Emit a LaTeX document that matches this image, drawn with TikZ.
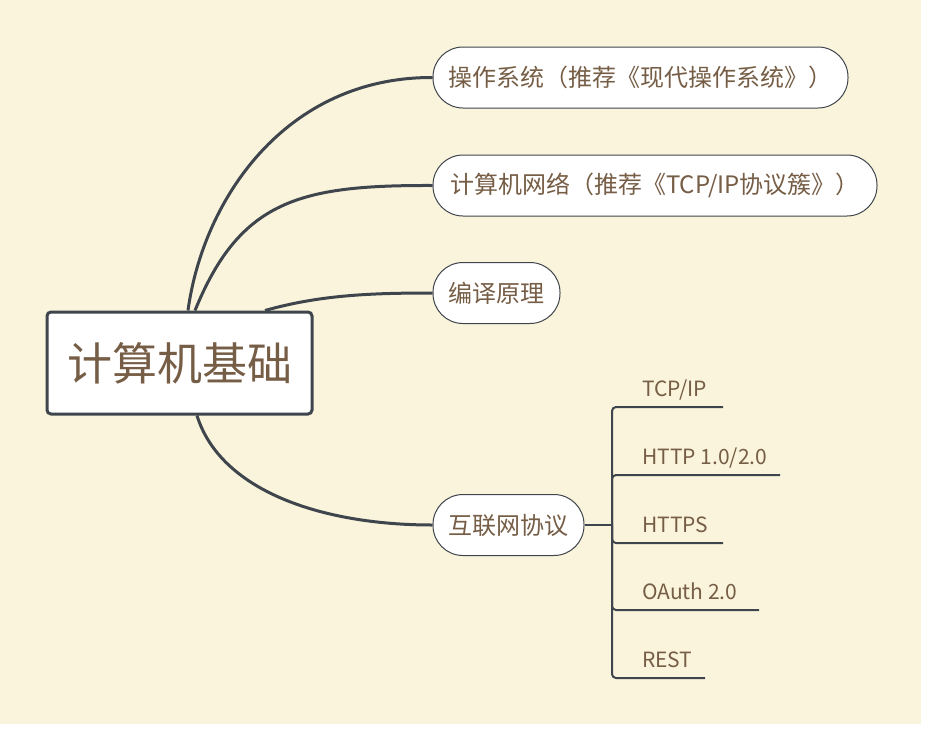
\documentclass[tikz,border=0pt]{standalone}
\usepackage{fontspec}
\setmainfont{Noto Sans CJK SC}
\usepackage{xcolor}
\definecolor{bgcream}{HTML}{FBF4DC}
\definecolor{linegray}{HTML}{3E454C}
\definecolor{textbrown}{HTML}{765D45}

\begin{document}
\begin{tikzpicture}[x=1pt, y=-1pt,
    rootbox/.style={draw=linegray, fill=white, line width=3pt, rounded corners=4pt,
        minimum width=265pt, minimum height=102pt, text=textbrown,
        font=\fontsize{45}{50}\selectfont},
    topicbox/.style={draw=linegray, fill=white, line width=1pt, rounded corners=30pt,
        minimum height=61pt, text=textbrown, font=\fontsize{24}{29}\selectfont},
    leaftext/.style={anchor=base west, inner sep=0pt, text=textbrown,
        font=\fontsize{21}{25}\selectfont},
    branch/.style={draw=linegray, line width=3pt},
    leafline/.style={draw=linegray, line width=2pt, rounded corners=4pt}]
    \useasboundingbox (0,0) rectangle (927,729);
    \fill[white] (0,0) rectangle (927,729);
    \fill[bgcream] (0,0) rectangle (921,724);

    \node[rootbox] (root) at (179.5,363) {计算机基础};

    \node[topicbox, minimum width=415pt] (os) at (640.5,77.5) {操作系统（推荐《现代操作系统》）}; % first topic
    \node[topicbox, minimum width=444pt] (net) at (655,185.5) {计算机网络（推荐《TCP/IP协议簇》）};
    \node[topicbox, minimum width=127pt] (comp) at (496.5,293) {编译原理};
    \node[topicbox, minimum width=151pt] (inet) at (508.5,525) {互联网协议};

    \draw[branch] ([xshift=8.5pt]root.north) .. controls (203,200) and (285,77) .. (os.west);
    \draw[branch] ([xshift=15.5pt]root.north) .. controls (240,200) and (300,185) .. (net.west);
    \draw[branch] ([xshift=85.5pt]root.north) .. controls (320,295) and (370,293) .. (comp.west);
    \draw[branch] ([xshift=17.5pt]root.south) .. controls (220,490) and (320,525) .. (inet.west);

    % leaves of the protocol topic
    \coordinate (hub) at (612,525);
    \node[leaftext] (tcpip) at (642,396) {TCP/IP};
    \node[leaftext] (http) at (642,464) {HTTP 1.0/2.0};
    \node[leaftext] (https) at (642,532) {HTTPS};
    \node[leaftext] (oauth) at (642,599) {OAuth 2.0};
    \node[leaftext] (rest) at (642,667) {REST};
    \coordinate (tcpip-end) at (723,407);
    \coordinate (http-end) at (780,475);
    \coordinate (https-end) at (723,543);
    \coordinate (oauth-end) at (759,610);
    \coordinate (rest-end) at (705,678);

    \draw[leafline] (inet.east) -- (hub);
    \foreach \leaf in {tcpip, http, https, oauth, rest}
        \draw[leafline] (hub) |- (\leaf-end);
\end{tikzpicture}
\end{document}
